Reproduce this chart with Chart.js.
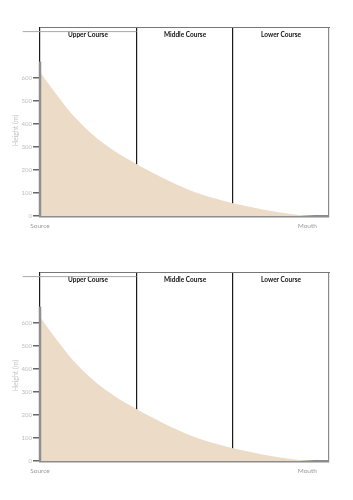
<!DOCTYPE html>
<html>
<head>
<meta charset="utf-8">
<script src="https://cdn.jsdelivr.net/npm/chart.js@4"></script>
<style>
body { margin: 0; background: #fff; width: 353px; height: 500px; overflow: hidden; }
canvas { display: block; }
</style>
</head>
<body>
<canvas id="profile-top" width="353" height="245"></canvas>
<canvas id="profile-bottom" width="353" height="245"></canvas>
<script>
// long profile of a river: distance along the river (%) vs height (m)
const distance = [0, 5, 10, 15, 20, 25, 30, 35, 40, 45, 50, 55, 60, 65, 70, 75, 80, 85, 90, 95, 100];
const heightM = [625, 539, 458, 391, 334, 288, 249, 214, 181, 150, 122, 98, 78, 61, 47, 34, 22, 12, 4, 0.5, 0];

const courseNames = ['Upper Course', 'Middle Course', 'Lower Course'];
const courseCentres = [16.6, 50.2, 83.4];
const courseEdges = [0, 33.4, 66.6, 100];

const yTicks = [0, 100, 200, 300, 400, 500, 600];
const endLabels = ['Source', 'Mouth'];
const endPositions = [0, 92.5];

function drawProfile(id) {
    const ctx = document.getElementById(id).getContext('2d');
    new Chart(ctx, {
        type: 'line',
        data: {
            datasets: [{
                // thick grey height axis
                data: [{ x: 0, y: 0 }, { x: 0, y: 670 }],
                borderColor: '#8f8f8f',
                borderWidth: 2.5,
                borderCapStyle: 'butt',
                pointRadius: 0,
                fill: false,
                clip: false,
                order: 0
            }, {
                data: [{ x: -6, y: 800 }, { x: 33.4, y: 800 }],
                borderColor: '#a8a8a8',
                borderWidth: 1,
                pointRadius: 0,
                fill: false,
                clip: false,
                order: 0
            }, {
                data: distance.map((d, i) => ({ x: d, y: heightM[i] })),
                backgroundColor: '#ecdcc7',
                borderWidth: 0,
                pointRadius: 0,
                fill: 'origin',
                cubicInterpolationMode: 'monotone',
                order: 2
            }]
        },
        options: {
            responsive: false,
            animation: false,
            layout: { padding: { top: 27, right: 24, bottom: 0, left: 0 } },
            plugins: { legend: { display: false }, tooltip: { enabled: false } },
            scales: {
                x: {
                    type: 'linear',
                    min: 0,
                    max: 100,
                    weight: 0,
                    afterBuildTicks: s => { s.ticks = courseEdges.map(v => ({ value: v })); },
                    afterFit: s => { s.height = 0; },
                    ticks: { display: false },
                    grid: {
                        drawTicks: false,
                        color: c => c.index === 3 ? '#8a8a8a' : '#1a1a1a',
                        lineWidth: 1.2
                    },
                    border: { color: '#8c8c8c', width: 2.5 }
                },
                xEnds: {
                    type: 'linear',
                    position: 'bottom',
                    min: 0,
                    max: 100,
                    weight: 1,
                    afterBuildTicks: s => { s.ticks = endPositions.map(v => ({ value: v })); },
                    afterFit: s => { s.height = 29; },
                    ticks: {
                        callback: (v, i) => endLabels[i],
                        autoSkip: false,
                        maxRotation: 0,
                        padding: 6,
                        color: '#9a9a9a',
                        font: { family: 'Lato', size: 6.5 }
                    },
                    grid: { display: false, drawTicks: false },
                    border: { display: false }
                },
                xCourse: {
                    type: 'linear',
                    position: 'top',
                    min: 0,
                    max: 100,
                    afterBuildTicks: s => { s.ticks = courseCentres.map(v => ({ value: v })); },
                    afterFit: s => { s.height = 0; },
                    ticks: {
                        callback: (v, i) => courseNames[i],
                        autoSkip: false,
                        maxRotation: 0,
                        mirror: true,
                        padding: 4,
                        color: '#111',
                        font: { family: 'Lato', size: 6.5, weight: 'bold' }
                    },
                    grid: { display: false, drawTicks: false },
                    border: { color: '#777', width: 1 }
                },
                y: {
                    min: 0,
                    max: 820,
                    afterBuildTicks: s => { s.ticks = yTicks.map(v => ({ value: v })); },
                    afterFit: s => { s.width = 40; },
                    ticks: {
                        padding: 1,
                        color: '#bdbdbd',
                        font: { family: 'Lato', size: 6 }
                    },
                    grid: {
                        drawOnChartArea: false,
                        tickLength: 7,
                        color: '#666',
                        lineWidth: 1.5
                    },
                    border: { display: false },
                    title: {
                        display: true,
                        text: 'Height (m)          ',
                        color: '#c4c4c4',
                        font: { family: 'Lato', size: 7 },
                        padding: { top: 12, bottom: 0 }
                    }
                }
            }
        }
    });
}

drawProfile('profile-top');
drawProfile('profile-bottom');
</script>
</body>
</html>
